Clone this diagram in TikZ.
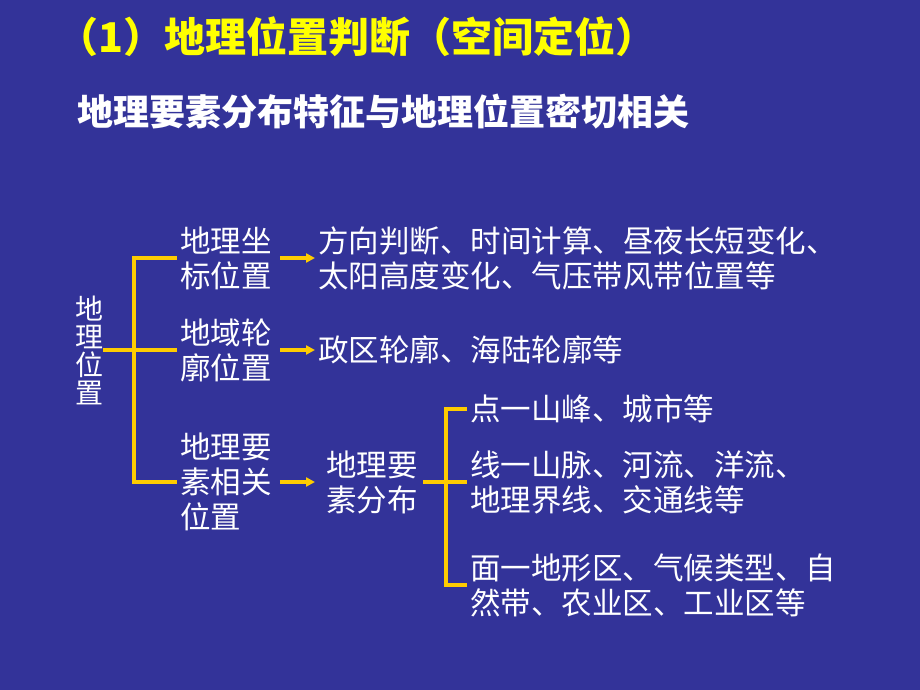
\documentclass[tikz,border=0pt]{standalone}
\usepackage{fontspec}
\setmainfont{Noto Sans CJK SC}
\usepackage{tikz}
\usetikzlibrary{arrows.meta,positioning,calc}
\usepackage{xcolor}
\definecolor{bgblue}{HTML}{333399}
\definecolor{ttlyellow}{HTML}{FFFF00}
\definecolor{linegold}{HTML}{FFCC00}

\tikzset{
  txt/.style={text=white,anchor=west,align=left,inner sep=3pt,font=\fontsize{30.5}{35}\selectfont},
  branch/.style={draw=linegold,line width=3.2pt},
  arr/.style={draw=linegold,line width=3.2pt,-{Triangle[length=9pt,width=9pt]},shorten <=5pt}
}

\begin{document}
\begin{tikzpicture}[x=1pt,y=-1pt]
	\fill[bgblue] (0,0) rectangle (920,690);
	\useasboundingbox (0,0) rectangle (920,690);
	% titles
	\node[anchor=west,inner sep=0,text=ttlyellow,font=\fontsize{41}{46}\selectfont\bfseries] (ttl) at (57,37) {（1）地理位置判断（空间定位）};
	\node[anchor=west,inner sep=0,text=white,font=\fontsize{36}{40}\selectfont\bfseries] (sub) at (77,112) {地理要素分布特征与地理位置密切相关};
	% tree
	\node[text=white,align=center,inner sep=0,font=\fontsize{28}{28}\selectfont] (geo) at (89,350) {地\\理\\位\\置};
	\node[txt] (coord) at (177,258) {地理坐\\标位置};
	\node[txt] (outline) at (177,350) {地域轮\\廓位置};
	\node[txt] (elem) at (177,482) {地理要\\素相关\\位置};
	\node[txt] (coordres) at (315,258) {方向判断、时间计算、昼夜长短变化、\\太阳高度变化、气压带风带位置等};
	\node[txt] (outlineres) at (315,350) {政区轮廓、海陆轮廓等};
	\node[txt,inner sep=0] (dist) at (326,482) {地理要\\素分布};
	\node[txt] (pt) at (467,409) {点一山峰、城市等};
	\node[txt] (ln) at (467,482) {线一山脉、河流、洋流、\\地理界线、交通线等};
	\node[txt] (ar) at (467,585) {面一地形区、气候类型、自\\然带、农业区、工业区等};
	\coordinate (j1) at (134,350);
	\coordinate (j2) at (446,482);
	\draw[branch] (geo.east) -- (outline.west);
	\draw[branch] (coord.west) -| (j1) |- (elem.west);
	\draw[arr] (coord.east) -- (coordres.west);
	\draw[arr] (outline.east) -- (outlineres.west);
	\draw[arr,shorten >=11pt] (elem.east) -- (dist.west);
	\draw[branch,shorten <=5pt] (dist.east) -- (ln.west);
	\draw[branch] (pt.west) -| (j2) |- (ar.west);
\end{tikzpicture}
\end{document}
